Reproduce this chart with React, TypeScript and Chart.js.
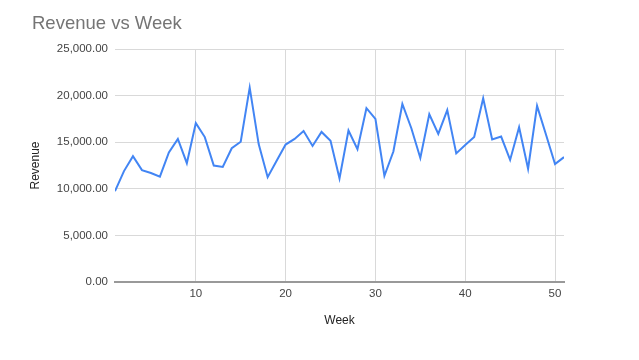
import React, { useEffect, useRef } from "react";
import { Chart, registerables } from "chart.js";

Chart.register(...registerables);

const weeks = [
  1, 2, 3, 4, 5, 6, 7, 8, 9, 10, 11, 12, 13, 14, 15, 16, 17, 18, 19, 20, 21, 22, 23, 24, 25, 26,
  27, 28, 29, 30, 31, 32, 33, 34, 35, 36, 37, 38, 39, 40, 41, 42, 43, 44, 45, 46, 47, 48, 49, 50, 51,
];
const revenue = [
  9750, 11900, 13500, 12000, 11700, 11300, 13900, 15350, 12750, 17050, 15550, 12500, 12350, 14350,
  15050, 20850, 14800, 11250, 13000, 14750, 15350, 16200, 14600, 16100, 15150, 11100, 16250, 14250,
  18650, 17500, 11400, 14000, 19100, 16500, 13300, 18000, 15900, 18450, 13800, 14700, 15550, 19700,
  15300, 15600, 13100, 16600, 12150, 18900, 15800, 12650, 13400,
];
const xTicks = [10, 20, 30, 40, 50];
const titleText = "Revenue vs Week";
const xTitle = "Week";
const yTitle = "Revenue";

const fontFamily = "'Liberation Sans', Arial, sans-serif";

export default function App() {
  const ref = useRef<HTMLCanvasElement | null>(null);
  useEffect(() => {
    if (!ref.current) return;
    const titlePlugin = {
      id: "customTitle",
      afterDraw(chart: any) {
        const ctx = chart.ctx;
        ctx.save();
        ctx.font = `18.5px ${fontFamily}`;
        ctx.fillStyle = "#757575";
        ctx.textBaseline = "alphabetic";
        ctx.textAlign = "left";
        ctx.fillText(titleText, 32, 29);
        ctx.restore();
      },
    };
    const chart = new Chart(ref.current, {
      type: "line",
      data: {
        datasets: [
          {
            data: weeks.map((w, i) => ({ x: w, y: revenue[i] })),
            borderColor: "#4285F4",
            borderWidth: 2,
            pointRadius: 0,
            tension: 0,
            fill: false,
          },
        ],
      },
      options: {
        animation: false,
        responsive: false,
        layout: { padding: { left: 0, right: 75, top: 49, bottom: 0 } },
        plugins: { legend: { display: false }, tooltip: { enabled: false }, title: { display: false } },
        scales: {
          x: {
            type: "linear",
            min: 1,
            max: 51,
            afterBuildTicks(scale: any) {
              scale.ticks = xTicks.map((v) => ({ value: v }));
            },
            afterFit(scale: any) {
              scale.height = 78;
            },
            ticks: {
              color: "#444",
              font: { family: fontFamily, size: 11.5 },
              padding: 5,
              maxRotation: 0,
            },
            grid: { color: "#d9d9d9", lineWidth: 1, drawTicks: false },
            border: { display: true, color: "#999", width: 2 },
            title: {
              display: true,
              text: xTitle,
              color: "#222",
              font: { family: fontFamily, size: 12 },
              padding: { top: 0, bottom: 32 },
            },
          },
          y: {
            min: 0,
            max: 25000,
            afterFit(scale: any) {
              scale.width = 115;
            },
            ticks: {
              stepSize: 5000,
              color: "#444",
              font: { family: fontFamily, size: 11.5 },
              padding: 7,
              callback: (v: any) =>
                Number(v).toLocaleString("en-US", { minimumFractionDigits: 2, maximumFractionDigits: 2 }),
            },
            grid: { color: "#d9d9d9", lineWidth: 1, drawTicks: false },
            border: { display: false },
            title: {
              display: true,
              text: yTitle,
              color: "#222",
              font: { family: fontFamily, size: 12 },
              padding: { top: 28, bottom: 0 },
            },
          },
        },
      },
      plugins: [titlePlugin],
    });
    return () => chart.destroy();
  }, []);
  return (
    <div style={{ position: "fixed", left: 0, top: 0, width: 639, height: 360, background: "#fff" }}>
      <canvas ref={ref} width={639} height={360} style={{ display: "block" }} />
    </div>
  );
}
